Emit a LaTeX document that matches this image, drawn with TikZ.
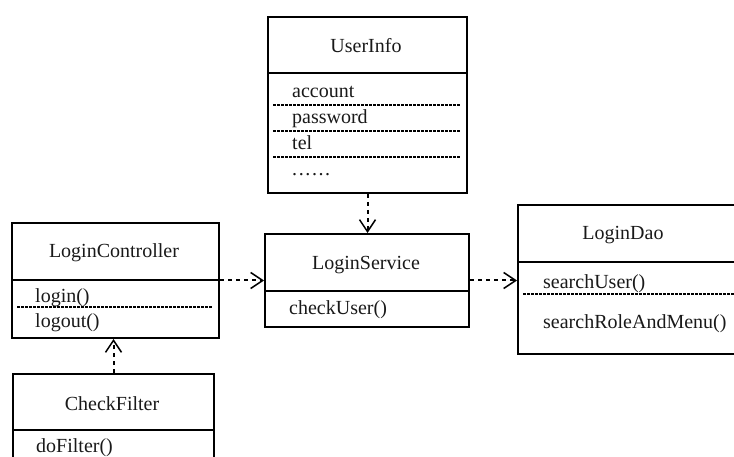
\documentclass[tikz,border=0pt]{standalone}
\usepackage{fontspec}
\setmainfont{Liberation Serif}
\usetikzlibrary{arrows.meta, positioning, calc}
\tikzset{classbox/.style={rectangle,draw,line width=2pt,anchor=north west,inner sep=0pt},
         classname/.style={anchor=base,inner sep=0pt,text=black!90},
         member/.style={anchor=base west,inner sep=0pt,text=black!90},
         headline/.style={line width=2pt},
         memberline/.style={line width=1.2pt,dash pattern=on 2.5pt off 1.5pt},
         depend/.style={line width=2pt,dash pattern=on 4pt off 4pt,-{Straight Barb[length=12pt,width=16pt,line width=1.5pt]}}}

\begin{document}
\begin{tikzpicture}[x=1pt,y=-1pt,font=\fontsize{20}{24}\selectfont]
    \useasboundingbox (0,0) rectangle (734,457);
    \clip (0,0) rectangle (734,457);
    % Classes
    \node (userinfo) at (267,16) [classbox,minimum width=199pt,minimum height=176pt]{};
    \node (ctrl) at (11,222) [classbox,minimum width=207pt,minimum height=115pt]{};
    \node (service) at (264,233) [classbox,minimum width=204pt,minimum height=93pt]{};
    \node (dao) at (517,204) [classbox,minimum width=230pt,minimum height=149pt]{};
    \node (filter) at (12,373) [classbox,minimum width=201pt,minimum height=100pt]{};
    % Name compartments
    \draw[headline] ($(userinfo.north west)+(0,57)$) -- ($(userinfo.north east)+(0,57)$);
    \draw[headline] ($(ctrl.north west)+(0,58)$) -- ($(ctrl.north east)+(0,58)$);
    \draw[headline] ($(service.north west)+(0,58)$) -- ($(service.north east)+(0,58)$);
    \draw[headline] ($(dao.north west)+(0,58)$) -- ($(dao.north east)+(0,58)$);
    \draw[headline] ($(filter.north west)+(0,57)$) -- ($(filter.north east)+(0,57)$);
    % Class names
    \node (userinfoname) at (366,53) [classname]{UserInfo};
    \node (ctrlname) at (114,258) [classname]{LoginController};
    \node (servicename) at (366,270) [classname]{LoginService};
    \node (daoname) at (623,240) [classname]{LoginDao};
    \node (filtername) at (112,410) [classname]{CheckFilter};
    % Members
    \node (account) at (292,98) [member]{account};
    \node (password) at (292,124) [member]{password};
    \node (tel) at (292,150) [member]{tel};
    \node (more) at (292,176) [member]{.\kern1.6pt.\kern1.6pt.\kern1.6pt.\kern1.6pt.\kern1.6pt.};
    \draw[memberline] (273,105) -- (460,105);
    \draw[memberline] (273,131) -- (460,131);
    \draw[memberline] (273,157) -- (460,157);
    \node (login) at (35,302) [member]{login()};
    \node (logout) at (35,327) [member]{logout()};
    \draw[memberline] (17,307) -- (212,307);
    \node (checkuser) at (289,315) [member]{checkUser()};
    \node (searchuser) at (543,289) [member]{searchUser()};
    \node (searchrole) at (543,328) [member]{searchRoleAndMenu()};
    \draw[memberline] (523,294) -- (740,294);
    \node (dofilter) at (36,452) [member]{doFilter()};
    % Dependencies
    \draw[depend] (userinfo.south) -- (userinfo.south |- service.north);
    \draw[depend] (ctrl.east) -- (ctrl.east -| service.west);
    \draw[depend] (service.east) -- (service.east -| dao.west);
    \draw[depend] (filter.north) -- (filter.north |- ctrl.south);
  \end{tikzpicture}
\end{document}
